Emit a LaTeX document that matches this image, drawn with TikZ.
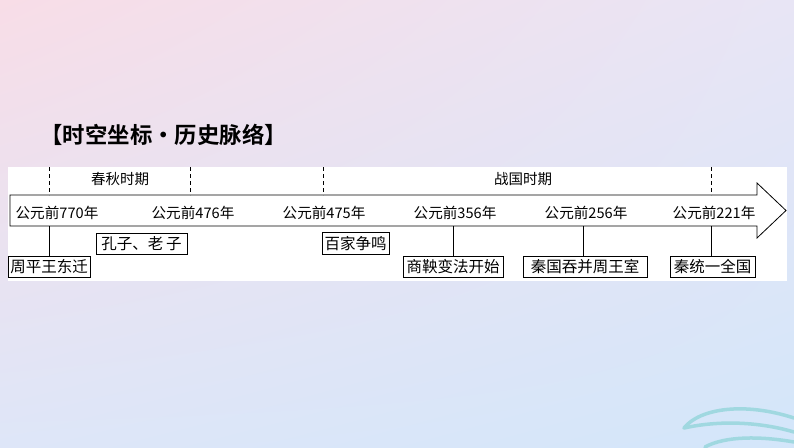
\documentclass[tikz,border=0pt]{standalone}
\usepackage{fontspec}
\usetikzlibrary{shadings}
\newfontfamily\cjk{Noto Sans CJK SC}
\newfontfamily\cjkbold{Noto Sans CJK SC Bold}
\definecolor{bgpink}{RGB}{248,221,231}
\definecolor{bglav}{RGB}{232,229,245}
\definecolor{bgblue}{RGB}{211,230,250}
\definecolor{bgmid}{RGB}{222,230,248}
\definecolor{swooshc}{RGB}{160,216,224}

\begin{document}
\begin{tikzpicture}[x=1pt,y=-1pt,line width=0.8pt,
    date/.style={font=\cjk\fontsize{14.6}{14.6}\selectfont,inner sep=0pt},
    period/.style={font=\cjk\fontsize{14.5}{14.5}\selectfont,inner sep=0pt},
    event/.style={draw,fill=white,line width=1pt,font=\cjk\fontsize{15.5}{15.5}\selectfont,
        inner xsep=2pt,minimum height=21pt},
    swoosh/.style={draw=swooshc,line width=3.5pt,line cap=round}]
\useasboundingbox (0,0) rectangle (794,447);
\shade[upper left=bgpink,upper right=bglav,lower left=bgmid,lower right=bgblue]
    (0,0) rectangle (794,447);
% decoration bottom right
\draw[swoosh] (684,428) .. controls (700,408) and (745,402) .. (794,418);
\draw[swoosh] (684,428) .. controls (720,420) and (760,422) .. (794,432);
\draw[swoosh] (705,447) .. controls (725,436) and (760,436) .. (794,442);
\node[font=\cjkbold\fontsize{22.4}{22.4}\selectfont,anchor=west,inner sep=0pt] (title)
    at (40,135) {【时空坐标・历史脉络】};
\fill[white] (8,167) rectangle (787,281);
% the time arrow
\draw (10,195) -- (757,195) -- (757,183) -- (786,210.5) -- (757,238) -- (757,226)
    -- (10,226) -- cycle;
\foreach \x in {49,190,323,711}
    \draw[dashed,dash pattern=on 4pt off 3pt] (\x,167) -- (\x,195);
\node[period] (chunqiu) at (120,179) {春秋时期};
\node[period] (zhanguo) at (523,179) {战国时期};
% dates
\node[date] (d770) at (57,213) {公元前770年};
\node[date] (d476) at (193,213) {公元前476年};
\node[date] (d475) at (324,213) {公元前475年};
\node[date] (d356) at (455,213) {公元前356年};
\node[date] (d256) at (586,213) {公元前256年};
\node[date] (d221) at (714,213) {公元前221年};
\coordinate (t770) at (49,226);
\coordinate (t356) at (453,226);
\coordinate (t256) at (583,226);
\coordinate (t221) at (711,226);
% events
\node[event,minimum width=82pt] (zhou) at (49,267) {周平王东迁};
\node[event,minimum width=91pt] (kongzi) at (141.5,243.5) {孔子、老\,子};
\node[event,minimum width=67pt] (baijia) at (355.5,243.5) {百家争鸣};
\node[event,minimum width=100pt] (shang) at (453,267) {商鞅变法开始};
\node[event,minimum width=124pt] (qinzhou) at (585,267) {秦国吞并周王室};
\node[event,minimum width=85pt] (qinyi) at (712.5,267) {秦统一全国};
\draw (t770) -- (t770 |- zhou.north);
\draw (t356) -- (shang.north);
\draw (t256) -- (t256 |- qinzhou.north);
\draw (t221) -- (t221 |- qinyi.north);
\end{tikzpicture}
\end{document}
